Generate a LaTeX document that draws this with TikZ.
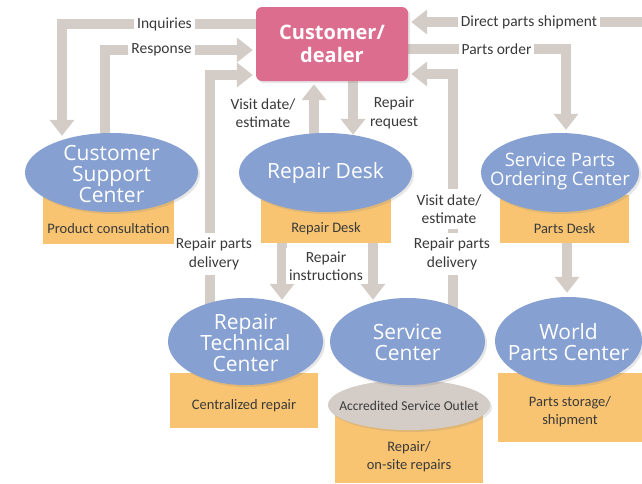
\documentclass[tikz,border=0pt]{standalone}
\usepackage{fontspec}
\setmainfont{Carlito}
\newfontfamily\officefamily{Open Sans}
\usetikzlibrary{shapes.geometric, arrows.meta, backgrounds, shadows}
\definecolor{dealerpink}{HTML}{DC6D8E}
\definecolor{officeblue}{HTML}{86A0D2}
\definecolor{deskorange}{HTML}{F8C472}
\definecolor{bandgray}{HTML}{D4CCC7}
\definecolor{textgray}{HTML}{3A3A3A}
\tikzset{
  band/.style={-{Triangle[length=16, width=24]}, draw=bandgray, line width=10, line join=miter},
  tag/.style={fill=white, inner sep=3, align=center, text=textgray, font=\fontsize{15.5}{18.5}\selectfont},
  office/.style={ellipse, fill=officeblue, drop shadow={shadow xshift=2pt, shadow yshift=-2pt, opacity=0.2}},
  officetext/.style={align=center, text=white, font=\officefamily\fontsize{21}{21}\selectfont},
  outlet/.style={ellipse, fill=bandgray, drop shadow={shadow xshift=2pt, shadow yshift=-2pt, opacity=0.2}},
  desk/.style={fill=deskorange},
  desktext/.style={align=center, text=textgray, font=\fontsize{14.5}{18}\selectfont},
  dealer/.style={rounded corners=6, fill=dealerpink, text=white, align=center,
    font=\officefamily\bfseries\fontsize{20}{23}\selectfont,
    drop shadow={shadow xshift=2pt, shadow yshift=-2pt, opacity=0.2}},
  every node/.style={inner sep=0}
}

\begin{document}
\begin{tikzpicture}[x=1pt, y=-1pt]
    \useasboundingbox (0,0) rectangle (642,483);
    \node[tag] (inq) at (164.5,24.5) {Inquiries};
    \node[tag] (resp) at (161.5,50) {Response};
    \node[tag] (visitl) at (263,113) {Visit date/\\estimate};
    \node[tag] (req) at (394,113) {Repair\\request};
    \node[tag] (ship) at (529,22) {Direct parts shipment};
    \node[tag] (order) at (496.5,49) {Parts order};
    \node[tag, inner ysep=5] (visitr) at (449,209) {Visit date/\\estimate};
    \node[tag, inner ysep=5] (partsr) at (452,254) {Repair parts\\delivery};
    \node[tag, inner ysep=5] (partsl) at (214,254) {Repair parts\\delivery};
    \node[tag] (instr) at (326,266) {Repair\\instructions};
    \node[desk, minimum width=131, minimum height=49] (pconsbox) at (108.5,219.5) {};
    \node[desktext] (pcons) at (108.5,229) {Product consultation};
    \node[desk, minimum width=130, minimum height=48] (rdbox) at (326,219) {};
    \node[desktext] (rdtext) at (326,229) {Repair Desk};
    \node[desk, minimum width=129, minimum height=48] (pdbox) at (564.5,219) {};
    \node[desktext] (pdtext) at (564.5,229) {Parts Desk};
    \node[desk, minimum width=148, minimum height=55] (crbox) at (244,400.5) {};
    \node[desktext] (crtext) at (244,406) {Centralized repair};
    \node[desk, minimum width=148, minimum height=68] (osbox) at (409,449) {};
    \node[desktext] (ostext) at (409,457) {Repair/\\on-site repairs};
    \node[desk, minimum width=144, minimum height=69] (psbox) at (570,407.5) {};
    \node[desktext] (pstext) at (570,412) {Parts storage/\\shipment};
    \node[outlet, minimum width=162, minimum height=50] (aso) at (409,405) {};
    \node[desktext, font=\fontsize{13.5}{16}\selectfont] (asotext) at (409,406) {Accredited Service Outlet};
    \node[office, minimum width=173, minimum height=79] (csc) at (111.5,172.5) {};
    \node[officetext] (csctext) at (111.5,174) {Customer\\Support\\Center};
    \node[office, minimum width=173, minimum height=79] (rdesk) at (325.5,172.5) {};
    \node[officetext] (rdesktext) at (325.5,173) {Repair Desk};
    \node[office, minimum width=158, minimum height=79] (spoc) at (560,172.5) {};
    \node[officetext, font=\officefamily\fontsize{18.5}{19}\selectfont] (spoctext) at (560,171) {Service Parts\\Ordering Center};
    \node[office, minimum width=155, minimum height=87] (rtc) at (245.5,341.5) {};
    \node[officetext] (rtctext) at (245.5,342.5) {Repair\\Technical\\Center};
    \node[office, minimum width=155, minimum height=87] (sc) at (407.5,341.5) {};
    \node[officetext] (sctext) at (407.5,342.5) {Service\\Center};
    \node[office, minimum width=147, minimum height=88] (wpc) at (568.5,341) {};
    \node[officetext] (wpctext) at (568.5,342) {World\\Parts Center};
    \node[dealer, minimum width=152, minimum height=74] (cust) at (332,44) {Customer/\\dealer};
    \coordinate (shipsrc) at (642,22);
    \begin{scope}[on background layer]
      \draw[band] ([yshift=20]cust.west) -| ([xshift=-49.5,yshift=-3]csc.north);
      \draw[band] ([xshift=-6.5,yshift=-5]csc.north) |- ([xshift=-3,yshift=-6]cust.west);
      \draw[band] ([xshift=-35.5,yshift=-10]rtc.north) |- ([xshift=-3,yshift=-31]cust.west);
      \draw[band] ([xshift=-11.5,yshift=-5]rdesk.north) -- ([xshift=-18,yshift=-3]cust.south);
      \draw[band] ([xshift=21]cust.south) -- ([xshift=27.5,yshift=-2]rdesk.north);
      \draw[band] (shipsrc) -- ([xshift=3,yshift=22]cust.east);
      \draw[band] ([yshift=-5]cust.east) -| ([xshift=6,yshift=3]spoc.north);
      \draw[band] ([xshift=45.5,yshift=-10]sc.north) |- ([xshift=3,yshift=-30]cust.east);
      \draw[band] ([xshift=-44]rdbox.south) -- ([xshift=36.5,yshift=-2]rtc.north);
      \draw[band] ([xshift=47]rdbox.south) -- ([xshift=-34.5,yshift=-2]sc.north);
      \draw[band] ([xshift=2.5]pdbox.south) -- ([xshift=-1.5,yshift=4]wpc.north);
    \end{scope}
\end{tikzpicture}
\end{document}
